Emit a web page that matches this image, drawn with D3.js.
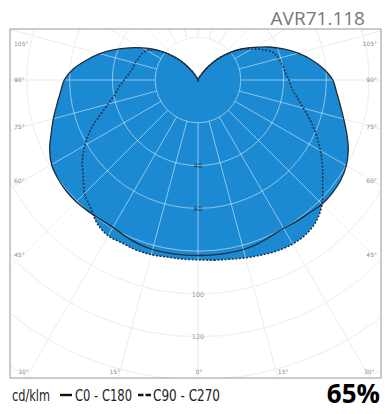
<!DOCTYPE html>
<html>
<head>
<meta charset="utf-8">
<script src="https://cdn.jsdelivr.net/npm/d3@7"></script>
<style>
  html, body { margin: 0; padding: 0; background: #fff; }
  svg { display: block; }
</style>
</head>
<body>
<svg id="chart" width="385" height="414"></svg>
<script>
// Photometric polar diagram, luminous intensity in cd/klm.
// Angles are measured from nadir (0° = straight down) to 180° (straight up).
const angles = d3.range(0, 181, 5);

// C0 half-plane (drawn on the right) and C180 half-plane (left) — solid curve
const c0 = [82, 82, 82, 82, 81.5, 80.5, 80, 80.5, 81, 82, 82, 81.5, 80, 77.5, 74, 70.5, 67.5, 65, 63,
            59, 54, 48.5, 42.5, 36.5, 30.5, 25.5, 20.5, 15.5, 10.5, 6, 2.5, 1, 0.3, 0, 0, 0, 0];
const c180 = [82, 82, 82, 82, 81.5, 80.5, 79.5, 79.5, 80, 80.5, 80.5, 80, 79, 76.5, 73, 70, 67, 64.5, 62.5,
              58.5, 53, 47.5, 41.5, 35.5, 30, 25, 20, 15, 10, 5.5, 2.5, 1, 0.3, 0, 0, 0, 0];
// C90 half-plane (right) and C270 half-plane (left) — dashed curve
const c90 = [84, 84.5, 85, 86, 87, 88, 88.5, 88, 86, 82, 76, 71, 66, 61, 56, 51, 47, 44, 42.5,
             41, 40, 39, 37.5, 33.5, 29, 25, 20, 15, 10, 5.5, 2.5, 1, 0.3, 0, 0, 0, 0];
const c270 = [84, 84, 84, 84.5, 84.5, 84, 84, 82, 78, 75, 70, 66, 61, 55.5, 49, 43.5, 39.5, 37, 34.5,
              32.5, 31, 30.5, 29.5, 29, 27.5, 24.5, 19.5, 14.5, 9.5, 5.5, 2.5, 1, 0.3, 0, 0, 0, 0];

const ringValues = [20, 40, 60, 80, 100, 120, 140, 160];
const ringLabels = [40, 60, 100, 120];
const spokeAngles = d3.range(0, 181, 15);
const sideLabels = [105, 90, 75, 60, 45];
const bottomLabels = [30, 15, 0];

const title = "AVR71.118";
const unitText = "cd/klm";
const solidName = "C0 - C180";
const dashedName = "C90 - C270";
const efficiency = "65%";

const svg = d3.select("#chart");
const frame = { x: 10, y: 29, w: 371, h: 349 };
const cx = 198, cy = 80;
const r = d3.scaleLinear().domain([0, 160]).range([0, 342.4]);
const deg = Math.PI / 180;

// nadir-based angle -> d3 radial angle (0 = up, clockwise)
const rightAngle = t => Math.PI - t * deg;
const leftAngle = t => Math.PI + t * deg;

function loop(rightVals, leftVals) {
  const pts = angles.map((t, i) => ({ a: rightAngle(t), v: rightVals[i] }));
  for (let i = angles.length - 2; i >= 1; i--) pts.push({ a: leftAngle(angles[i]), v: leftVals[i] });
  return pts;
}

const radial = d3.lineRadial()
  .angle(d => d.a)
  .radius(d => r(d.v))
  .curve(d3.curveCatmullRomClosed.alpha(0.5));

// title
svg.append("text")
  .attr("x", 365).attr("y", 25)
  .attr("text-anchor", "end")
  .attr("font-family", "Open Sans, sans-serif")
  .attr("font-size", 19)
  .attr("fill", "#777")
  .text(title);

svg.append("defs").append("clipPath").attr("id", "frameClip")
  .append("rect").attr("x", frame.x).attr("y", frame.y).attr("width", frame.w).attr("height", frame.h);

const plot = svg.append("g").attr("clip-path", "url(#frameClip)");
const g = plot.append("g").attr("transform", `translate(${cx},${cy})`);

function drawGrid(sel, color, opacity) {
  const grid = sel.append("g").attr("stroke", color).attr("stroke-opacity", opacity)
    .attr("fill", "none").attr("stroke-width", 1);
  grid.selectAll("circle").data(ringValues).join("circle").attr("r", d => r(d));
  const spokes = [];
  spokeAngles.forEach(t => { spokes.push(rightAngle(t)); if (t > 0 && t < 180) spokes.push(leftAngle(t)); });
  const r0 = r(ringValues[0]), r1 = r(200);
  grid.selectAll("line").data(spokes).join("line")
    .attr("x1", a => r0 * Math.sin(a)).attr("y1", a => -r0 * Math.cos(a))
    .attr("x2", a => r1 * Math.sin(a)).attr("y2", a => -r1 * Math.cos(a));
}

// light grid underneath
drawGrid(g, "#e2e2e2", 1);

// filled distributions
const blue = "#1b8ad3";
g.append("path").attr("d", radial(loop(c90, c270))).attr("fill", blue);
g.append("path").attr("d", radial(loop(c0, c180))).attr("fill", blue);

// grid showing through the fill
drawGrid(g, "#ffffff", 0.5);

// outlines
g.append("path").attr("d", radial(loop(c90, c270)))
  .attr("fill", "none").attr("stroke", "#1b3552").attr("stroke-width", 1.6)
  .attr("stroke-dasharray", "2,1.6");
g.append("path").attr("d", radial(loop(c0, c180)))
  .attr("fill", "none").attr("stroke", "#1d2b3c").attr("stroke-width", 1.3);

// ring value labels along the nadir axis
g.selectAll("text.ring").data(ringLabels).join("text")
  .attr("class", "ring")
  .attr("x", 0).attr("y", d => r(d) + 2.5)
  .attr("text-anchor", "middle")
  .attr("font-family", "DejaVu Sans, sans-serif")
  .attr("font-size", 6.5)
  .attr("fill", d => d <= 80 ? "#1c3a5c" : "#9a9a9a")
  .text(d => d);

// frame
svg.append("rect")
  .attr("x", frame.x).attr("y", frame.y).attr("width", frame.w).attr("height", frame.h)
  .attr("fill", "none").attr("stroke", "#a8a8a8").attr("stroke-width", 1.2);

// angle labels on the sides
const labelFont = { family: "DejaVu Sans, sans-serif", size: 6, color: "#8a8a8a" };
sideLabels.forEach(t => {
  const y = Math.max(frame.y + 15, cy + 175 * Math.cos(t * deg) / Math.sin(t * deg)) + 2;
  [[frame.x + 4, "start"], [frame.x + frame.w - 4, "end"]].forEach(([x, anchor]) => {
    svg.append("text").attr("x", x).attr("y", y).attr("text-anchor", anchor)
      .attr("font-family", labelFont.family).attr("font-size", labelFont.size)
      .attr("fill", labelFont.color).text(t + "°");
  });
});

// angle labels along the bottom edge
bottomLabels.forEach(t => {
  const dx = (frame.y + frame.h - cy) * Math.tan(t * deg);
  const y = frame.y + frame.h - 4;
  if (t === 0) {
    svg.append("text").attr("x", cx + 1).attr("y", y).attr("text-anchor", "middle")
      .attr("font-family", labelFont.family).attr("font-size", labelFont.size)
      .attr("fill", labelFont.color).text(t + "°");
    return;
  }
  const left = Math.max(frame.x + 19, cx - dx + 2);
  const right = Math.min(frame.x + frame.w - 17, cx + dx);
  svg.append("text").attr("x", left).attr("y", y).attr("text-anchor", "end")
    .attr("font-family", labelFont.family).attr("font-size", labelFont.size)
    .attr("fill", labelFont.color).text(t + "°");
  svg.append("text").attr("x", right).attr("y", y).attr("text-anchor", "start")
    .attr("font-family", labelFont.family).attr("font-size", labelFont.size)
    .attr("fill", labelFont.color).text(t + "°");
});

// legend
const legFont = "'Liberation Sans Narrow', 'DejaVu Sans Condensed', 'Roboto Condensed', sans-serif";
const legY = 401;
const leg = svg.append("g").attr("font-family", legFont).attr("font-size", 16).attr("fill", "#222");
leg.append("text").attr("x", 12).attr("y", legY).attr("textLength", 38)
  .attr("lengthAdjust", "spacingAndGlyphs").text(unitText);
leg.append("line").attr("x1", 60).attr("x2", 72).attr("y1", legY - 6).attr("y2", legY - 6)
  .attr("stroke", "#111").attr("stroke-width", 2.4);
leg.append("text").attr("x", 75).attr("y", legY).attr("textLength", 57)
  .attr("lengthAdjust", "spacingAndGlyphs").text(solidName);
leg.append("line").attr("x1", 138).attr("x2", 151).attr("y1", legY - 6).attr("y2", legY - 6)
  .attr("stroke", "#111").attr("stroke-width", 2.4).attr("stroke-dasharray", "5.5,2");
leg.append("text").attr("x", 153).attr("y", legY).attr("textLength", 67)
  .attr("lengthAdjust", "spacingAndGlyphs").text(dashedName);

svg.append("text")
  .attr("x", 380).attr("y", 403)
  .attr("text-anchor", "end")
  .attr("font-family", "Open Sans, sans-serif")
  .attr("font-weight", "bold")
  .attr("font-size", 26)
  .attr("fill", "#000")
  .text(efficiency);
</script>
</body>
</html>
